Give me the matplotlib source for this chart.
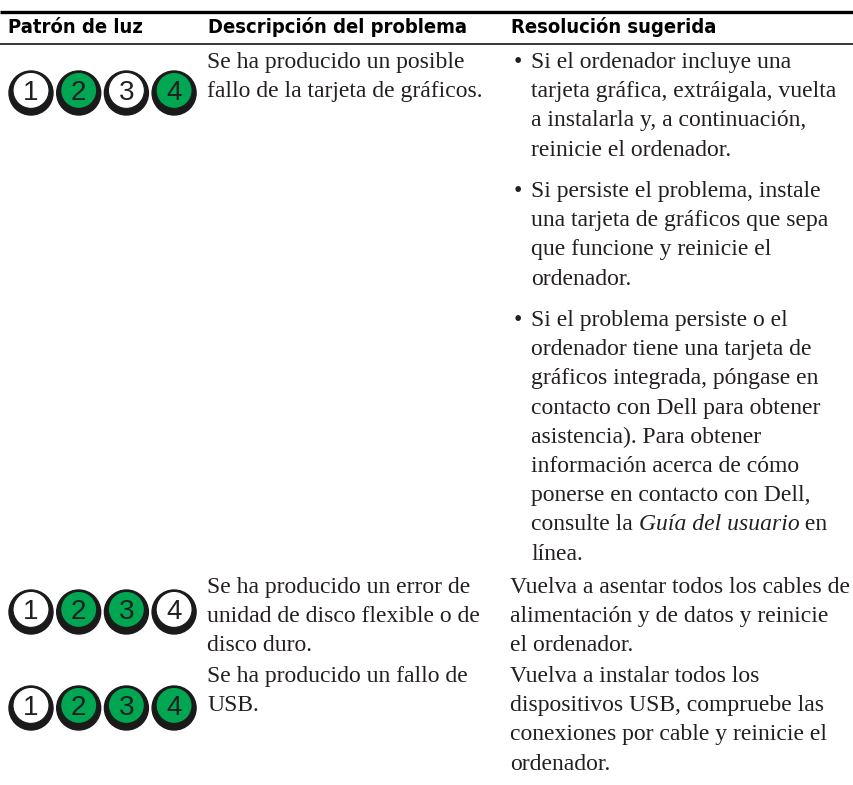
import matplotlib
matplotlib.use("Agg")
import matplotlib.pyplot as plt
from matplotlib.patches import Circle
from matplotlib import font_manager

# ---- table content ----
headers = ["Patrón de luz", "Descripción del problema", "Resolución sugerida"]

# 1 = LED lit (green), 0 = off (white)
patterns = [
    [0, 1, 0, 1],
    [0, 1, 1, 0],
    [0, 1, 1, 1],
]

descriptions = [
    ["Se ha producido un posible", "fallo de la tarjeta de gráficos."],
    ["Se ha producido un error de", "unidad de disco flexible o de", "disco duro."],
    ["Se ha producido un fallo de", "USB."],
]

# row 1 has three bullet points, the others plain paragraphs
resolutions = [
    [
        ["Si el ordenador incluye una", "tarjeta gráfica, extráigala, vuelta",
         "a instalarla y, a continuación,", "reinicie el ordenador."],
        ["Si persiste el problema, instale", "una tarjeta de gráficos que sepa",
         "que funcione y reinicie el", "ordenador."],
        ["Si el problema persiste o el", "ordenador tiene una tarjeta de",
         "gráficos integrada, póngase en", "contacto con Dell para obtener",
         "asistencia). Para obtener", "información acerca de cómo",
         "ponerse en contacto con Dell,", "consulte la *Guía del usuario* en",
         "línea."],
    ],
    [["Vuelva a asentar todos los cables de", "alimentación y de datos y reinicie",
      "el ordenador."]],
    [["Vuelva a instalar todos los", "dispositivos USB, compruebe las",
      "conexiones por cable y reinicie el", "ordenador."]],
]
bulleted = [True, False, False]

# ---- layout (pixels) ----
W, H = 854, 785
GREEN = "#00a651"
INK = "#231f20"
row_top = [68, 593, 682]        # first baseline of each row
para_top = [68, 197, 326]       # first baselines of the bullet paragraphs in row 1
circle_y = [93, 612, 708]
circle_x0, circle_dx = 31, 47.7
line_h = 29.2
col_x = [8, 207, 510]

# condensed bold sans for the header if there is one
head_prop = font_manager.FontProperties(family="Roboto", weight="bold", size=14)
for f in font_manager.fontManager.ttflist:
    if "DejaVuSansCondensed-Bold.ttf" in f.fname:
        head_prop = font_manager.FontProperties(fname=f.fname, size=14.5)
        break
body_font = "Liberation Serif"
body_size = 17

fig = plt.figure(figsize=(W / 100, H / 100), dpi=100)
ax = fig.add_axes([0, 0, 1, 1])
ax.set_xlim(0, W)
ax.set_ylim(H, 0)
ax.axis("off")

# header rules
ax.plot([0, W], [11.5, 11.5], color="black", lw=2.4, solid_capstyle="butt")
ax.plot([0, W], [44, 44], color="black", lw=1.1, solid_capstyle="butt")
for x, h in zip([8, 208, 511], headers):
    ax.text(x, 33, h, fontproperties=head_prop, color="black",
            va="baseline", ha="left")

# LED patterns
for cy, pat in zip(circle_y, patterns):
    for i, on in enumerate(pat):
        cx = circle_x0 + i * circle_dx
        ax.add_patch(Circle((cx, cy), 22, color="#1a1a1a", zorder=2))
        ax.add_patch(Circle((cx, cy - 2.6), 18, facecolor=GREEN if on else "white",
                            edgecolor="#1a1a1a", lw=0.8, zorder=3))
        ax.text(cx, cy - 2.6, str(i + 1), fontsize=20, family="Liberation Sans",
                color=INK, ha="center", va="center_baseline", zorder=4)

fig.canvas.draw()
renderer = fig.canvas.get_renderer()
inv = ax.transData.inverted()


def put_line(x, y, line):
    # handles a single *italic* span inside a line
    parts = line.split("*")
    for k, part in enumerate(parts):
        if not part:
            continue
        t = ax.text(x, y, part, fontsize=body_size, family=body_font, color=INK,
                    style="italic" if k % 2 else "normal", va="baseline", ha="left")
        bb = t.get_window_extent(renderer=renderer)
        x = inv.transform((bb.x1, bb.y0))[0]


# descriptions
for y0, lines in zip(row_top, descriptions):
    for j, line in enumerate(lines):
        put_line(col_x[1], y0 + j * line_h, line)

# resolutions
for r, paras in enumerate(resolutions):
    for p, lines in enumerate(paras):
        y0 = para_top[p] if bulleted[r] else row_top[r]
        x = 531 if bulleted[r] else col_x[2]
        if bulleted[r]:
            ax.text(514, y0, "•", fontsize=body_size, family=body_font, color=INK,
                    va="baseline", ha="left")
        for j, line in enumerate(lines):
            put_line(x, y0 + j * line_h, line)

fig.savefig("out.png", dpi=100, facecolor="white")
